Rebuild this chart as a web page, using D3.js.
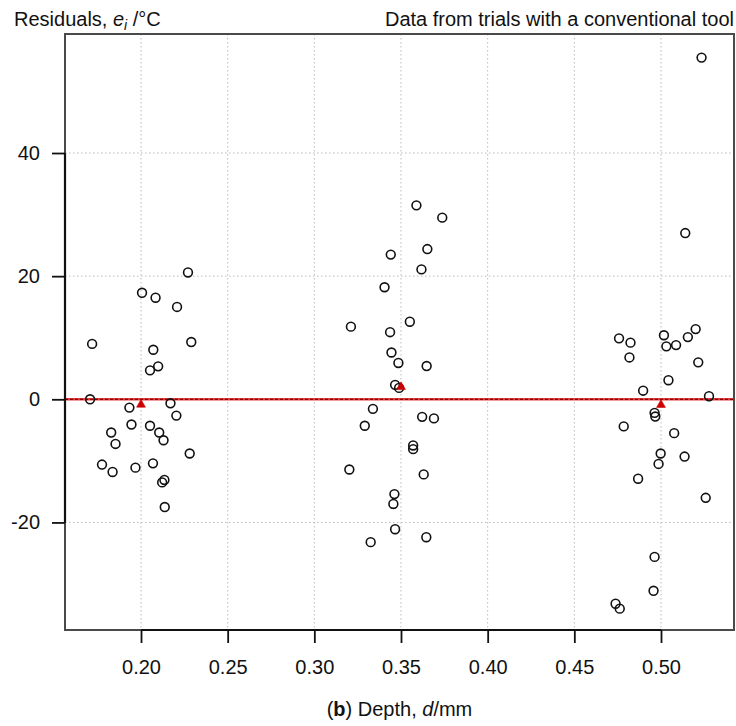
<!DOCTYPE html>
<html>
<head>
<meta charset="utf-8">
<script src="https://cdn.jsdelivr.net/npm/d3@7"></script>
<style>
  body { margin: 0; background: #fff; }
  text { font-family: "Liberation Sans", Arial, sans-serif; fill: #111; }
</style>
</head>
<body>
<div class="main-container"></div>
<script>
// depth 0.20 mm trials
const depthA = [0.2271, 0.2006, 0.2084, 0.2208, 0.1718, 0.2290, 0.2071, 0.2099, 0.2052,
  0.1706, 0.2170, 0.1933, 0.2204, 0.1828, 0.1945, 0.2052, 0.2105, 0.2130, 0.1853,
  0.2281, 0.1775, 0.1836, 0.1968, 0.2069, 0.2122, 0.2135, 0.2137];
const residA = [20.6, 17.3, 16.5, 15.0, 9.0, 9.3, 8.05, 5.35, 4.7,
  0.0, -0.65, -1.35, -2.65, -5.4, -4.1, -4.3, -5.4, -6.65, -7.25,
  -8.8, -10.6, -11.8, -11.1, -10.4, -13.5, -13.1, -17.5];

// depth 0.35 mm trials
const depthB = [0.3589, 0.3738, 0.3652, 0.3441, 0.3618, 0.3405, 0.3211, 0.3551, 0.3437,
  0.3445, 0.3485, 0.3648, 0.3466, 0.3489, 0.3338, 0.3291, 0.3622, 0.3690, 0.3570,
  0.3570, 0.3202, 0.3631, 0.3462, 0.3456, 0.3466, 0.3325, 0.3646];
const residB = [31.5, 29.5, 24.4, 23.5, 21.1, 18.2, 11.8, 12.6, 10.9,
  7.6, 5.9, 5.4, 2.35, 1.85, -1.55, -4.3, -2.85, -3.1, -7.5,
  -8.1, -11.4, -12.2, -15.4, -17.0, -21.1, -23.2, -22.4];

// depth 0.50 mm trials
const depthC = [0.5234, 0.5140, 0.5200, 0.5155, 0.5017, 0.5031, 0.5087, 0.4758, 0.4824,
  0.4818, 0.5215, 0.5043, 0.4897, 0.5277, 0.4963, 0.4967, 0.4785, 0.5076, 0.4998,
  0.4986, 0.5136, 0.4868, 0.5258, 0.4963, 0.4957, 0.4738, 0.4762];
const residC = [55.5, 27.0, 11.4, 10.1, 10.4, 8.6, 8.8, 9.9, 9.2,
  6.8, 6.0, 3.1, 1.4, 0.5, -2.2, -2.8, -4.4, -5.5, -8.8,
  -10.5, -9.3, -12.9, -16.0, -25.6, -31.1, -33.2, -34.0];

// group means (red triangles)
const meanDepth = [0.20, 0.35, 0.50];
const meanResid = [-0.86, 2.0, -0.9];

const xTicks = [0.20, 0.25, 0.30, 0.35, 0.40, 0.45, 0.50];
const yTicks = [-20, 0, 20, 40];

const width = 736, height = 726;
const plot = {left: 65, right: 734, top: 34, bottom: 630};

const svg = d3.select(".main-container")
  .append("svg")
  .attr("width", width)
  .attr("height", height);

const x = d3.scaleLinear()
  .domain([0.15615, 0.54212])
  .range([plot.left, plot.right]);

const y = d3.scaleLinear()
  .domain([-37.47, 59.33])
  .range([plot.bottom, plot.top]);

// dotted grid
svg.append("g")
  .selectAll("line")
  .data(xTicks)
  .join("line")
  .attr("x1", d => x(d)).attr("x2", d => x(d))
  .attr("y1", plot.top).attr("y2", plot.bottom)
  .attr("stroke", "#bbb")
  .attr("stroke-width", 1)
  .attr("stroke-dasharray", "1.5,2.5");

svg.append("g")
  .selectAll("line")
  .data(yTicks)
  .join("line")
  .attr("x1", plot.left).attr("x2", plot.right)
  .attr("y1", d => y(d)).attr("y2", d => y(d))
  .attr("stroke", "#bbb")
  .attr("stroke-width", 1)
  .attr("stroke-dasharray", "1.5,2.5");

// zero reference line
svg.append("line")
  .attr("x1", plot.left).attr("x2", plot.right)
  .attr("y1", y(0)).attr("y2", y(0))
  .attr("stroke", "#e23a3a")
  .attr("stroke-width", 2.6);
svg.append("line")
  .attr("x1", plot.left).attr("x2", plot.right)
  .attr("y1", y(0)).attr("y2", y(0))
  .attr("stroke", "#8a0000")
  .attr("stroke-width", 1.2)
  .attr("stroke-dasharray", "3,2");

// points
const points = []
  .concat(depthA.map((d, i) => ({d: d, r: residA[i]})))
  .concat(depthB.map((d, i) => ({d: d, r: residB[i]})))
  .concat(depthC.map((d, i) => ({d: d, r: residC[i]})));

svg.append("g")
  .selectAll("circle")
  .data(points)
  .join("circle")
  .attr("cx", p => x(p.d))
  .attr("cy", p => y(p.r))
  .attr("r", 4.4)
  .attr("fill", "none")
  .attr("stroke", "#111")
  .attr("stroke-width", 1.6);

svg.append("g")
  .selectAll("path")
  .data(meanDepth)
  .join("path")
  .attr("d", d3.symbol(d3.symbolTriangle, 34))
  .attr("transform", (d, i) => `translate(${x(d)},${y(meanResid[i])})`)
  .attr("fill", "#cc0000")
  .attr("stroke", "#cc0000")
  .attr("stroke-width", 0.6);

// frame
svg.append("rect")
  .attr("x", plot.left).attr("y", plot.top)
  .attr("width", plot.right - plot.left)
  .attr("height", plot.bottom - plot.top)
  .attr("fill", "none")
  .attr("stroke", "#4a4a4a")
  .attr("stroke-width", 2);

// axes
const xAxis = svg.append("g")
  .attr("transform", `translate(0,${plot.bottom})`)
  .call(d3.axisBottom(x).tickValues(xTicks).tickFormat(d3.format(".2f"))
    .tickSize(13).tickPadding(17));
const yAxis = svg.append("g")
  .attr("transform", `translate(${plot.left},0)`)
  .call(d3.axisLeft(y).tickValues(yTicks).tickFormat(d => String(d))
    .tickSize(13).tickPadding(12));

[xAxis, yAxis].forEach(g => {
  g.select(".domain").remove();
  g.selectAll(".tick line").attr("stroke", "#111").attr("stroke-width", 1.8);
  g.selectAll("text")
    .style("font-family", "'Liberation Sans', Arial, sans-serif")
    .style("font-size", "20px")
    .attr("fill", "#111");
});

xAxis.append("line")
  .attr("x1", x(xTicks[0])).attr("x2", x(xTicks[xTicks.length - 1]))
  .attr("stroke", "#111").attr("stroke-width", 2.2);
yAxis.append("line")
  .attr("y1", y(yTicks[0])).attr("y2", y(yTicks[yTicks.length - 1]))
  .attr("stroke", "#111").attr("stroke-width", 2.2);

// titles
const yTitle = svg.append("text")
  .attr("x", 14).attr("y", 26)
  .style("font-size", "20px");
yTitle.append("tspan").text("Residuals, ");
yTitle.append("tspan").style("font-style", "italic").text("e");
yTitle.append("tspan").style("font-style", "italic").style("font-size", "14px")
  .attr("dy", 4).text("i");
yTitle.append("tspan").attr("dy", -4).text(" /°C");

svg.append("text")
  .attr("x", 734).attr("y", 26)
  .attr("text-anchor", "end")
  .style("font-size", "20px")
  .text("Data from trials with a conventional tool");

const xTitle = svg.append("text")
  .attr("x", (plot.left + plot.right) / 2).attr("y", 716)
  .attr("text-anchor", "middle")
  .style("font-size", "20px");
xTitle.append("tspan").text("(");
xTitle.append("tspan").style("font-weight", "bold").text("b");
xTitle.append("tspan").text(") Depth, ");
xTitle.append("tspan").style("font-style", "italic").text("d");
xTitle.append("tspan").text("/mm");
</script>
</body>
</html>
